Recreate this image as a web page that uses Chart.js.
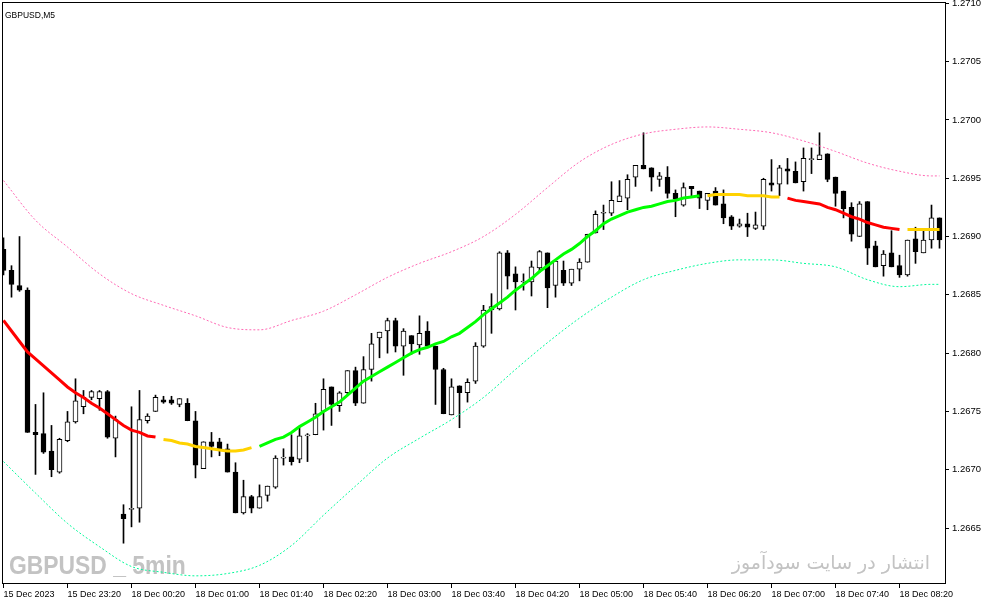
<!DOCTYPE html>
<html>
<head>
<meta charset="utf-8">
<script src="https://cdn.jsdelivr.net/npm/chart.js@4.4.0/dist/chart.umd.min.js"></script>
<style>
  html, body { margin: 0; padding: 0; background: #fff; overflow: hidden; }
</style>
</head>
<body>
<canvas id="chart" width="987" height="605"></canvas>
<script>
// GBPUSD M5, one label every 8 candles
const tickLabels = ['15 Dec 2023', '15 Dec 23:20', '18 Dec 00:20', '18 Dec 01:00', '18 Dec 01:40',
  '18 Dec 02:20', '18 Dec 03:00', '18 Dec 03:40', '18 Dec 04:20', '18 Dec 05:00',
  '18 Dec 05:40', '18 Dec 06:20', '18 Dec 07:00', '18 Dec 07:40', '18 Dec 08:20'];
const priceTicks = [1.2665, 1.2670, 1.2675, 1.2680, 1.2685, 1.2690, 1.2695, 1.2700, 1.2705, 1.2710];

const open = [
  1.26889, 1.26871, 1.26858, 1.26854, 1.26732, 1.26731, 1.26716, 1.26698, 1.26725, 1.26741,
  1.26754, 1.26762, 1.26761, 1.26767, 1.26727, 1.26662, 1.26666, 1.26667, 1.26742, 1.26750,
  1.26760, 1.26760, 1.26756, 1.26757, 1.26742, 1.26701, 1.26724, 1.26724, 1.26718, 1.26698,
  1.26663, 1.26677, 1.26667, 1.26678, 1.26685, 1.26710, 1.26711, 1.26709, 1.26729, 1.26730,
  1.26750, 1.26771, 1.26755, 1.26766, 1.26785, 1.26757, 1.26786, 1.26813, 1.26819, 1.26828,
  1.26806, 1.26815, 1.26807, 1.26819, 1.26806, 1.26786, 1.26747, 1.26772, 1.26766, 1.26776,
  1.26806, 1.26837, 1.26838, 1.26886, 1.26868, 1.26861, 1.26861, 1.26873, 1.26886, 1.26858,
  1.26871, 1.26860, 1.26872, 1.26878, 1.26903, 1.26920, 1.26920, 1.26930, 1.26933, 1.26951,
  1.26961, 1.26959, 1.26949, 1.26951, 1.26937, 1.26927, 1.26943, 1.26939, 1.26931, 1.26939,
  1.26928, 1.26917, 1.26909, 1.26911, 1.26907, 1.26909, 1.26946, 1.26945, 1.26958, 1.26956,
  1.26947, 1.26966, 1.26966, 1.26971, 1.26951, 1.26939, 1.26925, 1.26900, 1.26930, 1.26892,
  1.26875, 1.26886, 1.26875, 1.26867, 1.26898, 1.26886, 1.26897, 1.26916
];
const high = [
  1.26899, 1.26875, 1.26900, 1.26856, 1.26756, 1.26766, 1.26738, 1.26727, 1.26750, 1.26778,
  1.26768, 1.26768, 1.26768, 1.26768, 1.26746, 1.26670, 1.26754, 1.26768, 1.26748, 1.26764,
  1.26763, 1.26763, 1.26761, 1.26761, 1.26750, 1.26724, 1.26732, 1.26727, 1.26722, 1.26706,
  1.26691, 1.26678, 1.26687, 1.26686, 1.26712, 1.26718, 1.26730, 1.26736, 1.26731, 1.26757,
  1.26778, 1.26771, 1.26767, 1.26785, 1.26788, 1.26797, 1.26817, 1.26818, 1.26830, 1.26830,
  1.26821, 1.26815, 1.26832, 1.26827, 1.26806, 1.26787, 1.26778, 1.26772, 1.26778, 1.26809,
  1.26841, 1.26851, 1.26887, 1.26888, 1.26874, 1.26868, 1.26879, 1.26888, 1.26886, 1.26879,
  1.26879, 1.26872, 1.26881, 1.26902, 1.26922, 1.26927, 1.26947, 1.26948, 1.26953, 1.26961,
  1.26989, 1.26959, 1.26955, 1.26960, 1.26940, 1.26946, 1.26943, 1.26939, 1.26937, 1.26942,
  1.26940, 1.26918, 1.26915, 1.26920, 1.26921, 1.26950, 1.26966, 1.26961, 1.26967, 1.26964,
  1.26976, 1.26976, 1.26989, 1.26971, 1.26951, 1.26939, 1.26929, 1.26930, 1.26930, 1.26896,
  1.26888, 1.26905, 1.26884, 1.26897, 1.26908, 1.26905, 1.26927, 1.26916
];
const low = [
  1.26867, 1.26848, 1.26853, 1.26732, 1.26696, 1.26714, 1.26694, 1.26697, 1.26724, 1.26740,
  1.26748, 1.26760, 1.26751, 1.26727, 1.26711, 1.26637, 1.26651, 1.26655, 1.26740, 1.26750,
  1.26757, 1.26756, 1.26754, 1.26742, 1.26693, 1.26701, 1.26711, 1.26712, 1.26698, 1.26663,
  1.26662, 1.26663, 1.26667, 1.26673, 1.26684, 1.26704, 1.26704, 1.26706, 1.26707, 1.26730,
  1.26734, 1.26738, 1.26750, 1.26765, 1.26755, 1.26757, 1.26776, 1.26796, 1.26800, 1.26801,
  1.26781, 1.26799, 1.26799, 1.26806, 1.26756, 1.26748, 1.26747, 1.26736, 1.26758, 1.26774,
  1.26805, 1.26817, 1.26837, 1.26855, 1.26837, 1.26854, 1.26849, 1.26869, 1.26839, 1.26848,
  1.26858, 1.26858, 1.26862, 1.26878, 1.26903, 1.26906, 1.26918, 1.26930, 1.26923, 1.26943,
  1.26958, 1.26939, 1.26943, 1.26933, 1.26917, 1.26926, 1.26934, 1.26924, 1.26923, 1.26927,
  1.26911, 1.26906, 1.26908, 1.26900, 1.26906, 1.26906, 1.26939, 1.26935, 1.26945, 1.26946,
  1.26939, 1.26954, 1.26966, 1.26947, 1.26926, 1.26916, 1.26896, 1.26900, 1.26876, 1.26874,
  1.26866, 1.26874, 1.26865, 1.26866, 1.26877, 1.26886, 1.26890, 1.26890
];
const close = [
  1.26871, 1.26859, 1.26854, 1.26732, 1.26730, 1.26715, 1.26700, 1.26726, 1.26741, 1.26759,
  1.26762, 1.26767, 1.26767, 1.26728, 1.26743, 1.26658, 1.26666, 1.26743, 1.26746, 1.26762,
  1.26758, 1.26757, 1.26761, 1.26742, 1.26704, 1.26724, 1.26720, 1.26718, 1.26698, 1.26663,
  1.26677, 1.26667, 1.26677, 1.26686, 1.26710, 1.26710, 1.26707, 1.26729, 1.26729, 1.26748,
  1.26769, 1.26756, 1.26766, 1.26785, 1.26757, 1.26786, 1.26808, 1.26818, 1.26828, 1.26806,
  1.26819, 1.26808, 1.26817, 1.26806, 1.26786, 1.26748, 1.26771, 1.26766, 1.26775, 1.26806,
  1.26837, 1.26840, 1.26886, 1.26866, 1.26861, 1.26861, 1.26874, 1.26887, 1.26856, 1.26879,
  1.26860, 1.26872, 1.26878, 1.26902, 1.26919, 1.26920, 1.26931, 1.26935, 1.26949, 1.26961,
  1.26958, 1.26951, 1.26952, 1.26937, 1.26932, 1.26942, 1.26941, 1.26933, 1.26937, 1.26927,
  1.26916, 1.26909, 1.26911, 1.26908, 1.26910, 1.26949, 1.26944, 1.26959, 1.26956, 1.26946,
  1.26967, 1.26966, 1.26970, 1.26949, 1.26937, 1.26924, 1.26902, 1.26928, 1.26890, 1.26874,
  1.26885, 1.26874, 1.26867, 1.26897, 1.26887, 1.26897, 1.26916, 1.26897
];

// centre line of the channel, coloured by its state
const trend = [
  1.26828, 1.26819, 1.26810, 1.26801, 1.26795, 1.26789, 1.26783, 1.26777, 1.26771, 1.26766,
  1.26762, 1.26757, 1.26753, 1.26748, 1.26743, 1.26738, 1.26734, 1.26732, 1.26729, 1.26728,
  1.26726, 1.26725, 1.26723, 1.26722, 1.26720, 1.26719, 1.26718, 1.26717, 1.26716, 1.26716,
  1.26717, 1.26719, 1.26720, 1.26723, 1.26726, 1.26728, 1.26732, 1.26737, 1.26741, 1.26745,
  1.26750, 1.26754, 1.26758, 1.26764, 1.26770, 1.26776, 1.26780, 1.26784, 1.26788, 1.26792,
  1.26796, 1.26800, 1.26803, 1.26805, 1.26808, 1.26810, 1.26814, 1.26817, 1.26822, 1.26827,
  1.26833, 1.26838, 1.26843, 1.26848, 1.26854, 1.26859, 1.26864, 1.26870, 1.26875, 1.26880,
  1.26885, 1.26889, 1.26894, 1.26900, 1.26905, 1.26911, 1.26915, 1.26918, 1.26921, 1.26923,
  1.26925, 1.26926, 1.26928, 1.26930, 1.26931, 1.26933, 1.26934, 1.26935, 1.26935, 1.26936,
  1.26936, 1.26936, 1.26936, 1.26935, 1.26935, 1.26935, 1.26934, 1.26934, 1.26933, 1.26931,
  1.26930, 1.26929, 1.26928, 1.26925, 1.26923, 1.26920, 1.26917, 1.26915, 1.26912, 1.26910,
  1.26908, 1.26907, 1.26906, 1.26906, 1.26906, 1.26906, 1.26906, 1.26906
];
const trendRuns = [[0, 19, 'down'], [20, 31, 'flat'], [32, 87, 'up'], [88, 97, 'flat'], [98, 112, 'down'], [113, 117, 'flat']];

// channel bands, read every 4th candle
const bandAt = [0, 4, 8, 12, 16, 20, 24, 28, 32, 36, 40, 44, 48, 52, 56, 60, 64, 68, 72, 76, 80, 84, 88, 92, 96, 100, 104, 108, 112, 116, 117];
const upperBand = [
  1.26948, 1.26914, 1.26891, 1.26868, 1.26851, 1.26841, 1.26832, 1.26822, 1.26820, 1.26828,
  1.26836, 1.26850, 1.26865, 1.26877, 1.26887, 1.26900, 1.26919, 1.26942, 1.26964, 1.26979,
  1.26988, 1.26992, 1.26994, 1.26992, 1.26989, 1.26982, 1.26973, 1.26963, 1.26956, 1.26952, 1.26952
];
const lowerBand = [
  1.26707, 1.26680, 1.26654, 1.26634, 1.26617, 1.26612, 1.26609, 1.26611, 1.26618, 1.26635,
  1.26661, 1.26686, 1.26710, 1.26727, 1.26743, 1.26762, 1.26786, 1.26809, 1.26830, 1.26848,
  1.26863, 1.26871, 1.26877, 1.26880, 1.26880, 1.26877, 1.26874, 1.26863, 1.26857, 1.26859, 1.26859
];

const trendColour = { down: '#ff0000', flat: '#ffd200', up: '#00ff00' };

const wicks = open.map((o, i) => ({ x: i, y: [low[i], high[i]] }));
const bodies = open.map((o, i) => ({ x: i, y: [Math.min(o, close[i]), Math.max(o, close[i])] }));
const bodyFill = open.map((o, i) => close[i] >= o ? '#ffffff' : '#000000');

const trendSets = trendRuns.map(([a, b, state]) => ({
    type: 'line',
    order: 0,
    data: trend.slice(a, b + 1).map((v, k) => ({ x: a + k, y: v })),
    borderColor: trendColour[state],
    borderWidth: 3,
    pointRadius: 0,
    tension: 0
}));

function bandSet(values, colour) {
    return {
        type: 'line',
        order: 0,
        data: bandAt.map((x, k) => ({ x: x, y: values[k] })),
        borderColor: colour,
        borderWidth: 1,
        borderDash: [2, 2],
        pointRadius: 0,
        cubicInterpolationMode: 'monotone'
    };
}

const frame = {
    id: 'frame',
    beforeDatasetsDraw(chart) {
        const ctx = chart.ctx;
        ctx.save();
        ctx.fillStyle = '#c3c3c3';
        ctx.textBaseline = 'alphabetic';
        // condensed bold watermark
        ctx.save();
        ctx.translate(9, 574);
        ctx.scale(0.88, 1);
        ctx.font = 'bold 26px "Liberation Sans", sans-serif';
        ctx.textAlign = 'left';
        ctx.fillText('GBPUSD _ 5min', 0, 0);
        ctx.restore();
        ctx.font = '19px "DejaVu Sans", sans-serif';
        ctx.textAlign = 'right';
        ctx.fillText('انتشار در سایت سودآموز', 930, 569);
        ctx.restore();
    },
    afterDraw(chart) {
        const { ctx, chartArea: a } = chart;
        ctx.save();
        ctx.strokeStyle = '#000';
        ctx.lineWidth = 1;
        ctx.strokeRect(a.left - 0.5, a.top - 0.5, a.right - a.left, a.bottom - a.top);
        ctx.fillStyle = '#000';
        ctx.font = '8.5px "Liberation Sans", sans-serif';
        ctx.textAlign = 'left';
        ctx.textBaseline = 'alphabetic';
        ctx.fillText('GBPUSD,M5', 5, 18);
        ctx.restore();
    }
};

new Chart(document.getElementById('chart'), {
    type: 'bar',
    data: {
        datasets: [
            bandSet(upperBand, '#ff69b4'),
            bandSet(lowerBand, '#00fa9a'),
            ...trendSets,
            {
                order: 1,
                data: bodies,
                grouped: false,
                barThickness: 5,
                minBarLength: 1,
                backgroundColor: bodyFill,
                borderColor: '#000000',
                borderWidth: 1,
                borderSkipped: false
            },
            {
                order: 2,
                data: wicks,
                grouped: false,
                barThickness: 1,
                backgroundColor: '#000000',
                borderWidth: 0
            }
        ]
    },
    options: {
        responsive: false,
        animation: false,
        devicePixelRatio: 1,
        layout: { padding: { left: 3, top: 3, right: 0, bottom: 0 } },
        plugins: { legend: { display: false }, tooltip: { enabled: false } },
        scales: {
            x: {
                type: 'linear',
                min: -0.0625,
                max: 117.8125,
                offset: false,
                border: { display: false },
                grid: { offset: false, drawOnChartArea: false, tickLength: 4, color: '#000' },
                ticks: {
                    autoSkip: false,
                    maxRotation: 0,
                    align: 'start',
                    padding: 1,
                    color: '#000',
                    font: { family: 'Liberation Sans', size: 9 },
                    callback: v => tickLabels[v / 8]
                },
                afterBuildTicks: s => { s.ticks = tickLabels.map((t, k) => ({ value: k * 8 })); },
                afterFit: s => { s.height = 21; s.paddingLeft = 0; s.paddingRight = 0; }
            },
            y: {
                type: 'linear',
                position: 'right',
                min: 1.26602,
                max: 1.271003,
                border: { display: false },
                grid: { drawOnChartArea: false, tickLength: 3, color: '#000' },
                ticks: {
                    padding: 3,
                    color: '#000',
                    font: { family: 'Liberation Sans', size: 9.5 },
                    callback: v => v.toFixed(4)
                },
                afterBuildTicks: s => { s.ticks = priceTicks.map(v => ({ value: v })); },
                afterFit: s => { s.width = 41; s.paddingTop = 0; s.paddingBottom = 0; }
            }
        }
    },
    plugins: [frame]
});
</script>
</body>
</html>
